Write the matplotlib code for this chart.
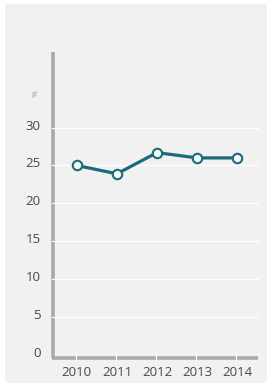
import matplotlib
matplotlib.use("Agg")
import matplotlib.pyplot as plt
import matplotlib.transforms as mtransforms
from matplotlib.patches import Rectangle

years = ["2010", "2011", "2012", "2013", "2014"]
values = [25.0, 23.9, 26.7, 26.0, 26.0]
yticks = [0, 5, 10, 15, 20, 25, 30]
unit = "%"

plt.rcParams['font.family'] = ['Open Sans', 'DejaVu Sans']

W, H = 274, 388
fig = plt.figure(figsize=(W / 100, H / 100), dpi=100, facecolor="white")
fig.patches.append(Rectangle((5 / W, 1 - 383 / H), 262 / W, 379 / H,
                             transform=fig.transFigure, facecolor="#f1f1f1",
                             edgecolor="none", zorder=-10))

ax = fig.add_axes([52 / W, (H - 357.6) / H, 206 / W, (357.6 - 52) / H])
ax.set_facecolor("none")
x = list(range(len(years)))
ax.set_xlim(-0.62, 4.52)
ax.set_ylim(-0.4, 40)

for s in ax.spines.values():
    s.set_visible(False)

spine_col = "#a8a8a8"
# manual spines
ax.plot([0.006, 0.006], [0, 1], transform=ax.transAxes, color=spine_col, lw=2.6,
        solid_capstyle="butt", zorder=1, clip_on=False)
ax.plot([0, 1], [0.0, 0.0], transform=ax.transAxes, color=spine_col, lw=2.6,
        solid_capstyle="butt", zorder=1, clip_on=False)

# white gridlines crossing the y spine
for t in yticks[1:]:
    ax.plot([0, 1], [t, t], transform=ax.get_yaxis_transform(), color="white",
            lw=0.9, zorder=2, clip_on=False)
# white gaps in x bar at category positions
for xi in x:
    ax.plot([xi - 0.02, xi - 0.02], [-0.012, 0.012], transform=ax.get_xaxis_transform(),
            color="white", lw=0.9, zorder=2, clip_on=False)

line_col = "#1b6b7b"
ax.plot(x, values, color=line_col, lw=2.3, marker="o", ms=6.8, mfc="#f4f6f6",
        mec=line_col, mew=1.5, zorder=5, clip_on=False)

ax.set_xticks(x)
ax.set_xticklabels(years)
ax.set_yticks(yticks)
ax.set_yticklabels([str(t) for t in yticks])
ax.tick_params(axis="both", length=0, labelsize=9.5, labelcolor="#474747")
ax.tick_params(axis="x", pad=6)
ax.tick_params(axis="y", pad=8)

off = mtransforms.ScaledTranslation(0, 3 / 100, fig.dpi_scale_trans)
for lab in ax.get_yticklabels():
    lab.set_transform(lab.get_transform() + off)

ax.text(-0.075, 0.865, unit, transform=ax.transAxes, rotation=90, fontsize=6,
        color="#9a9a9a", ha="center", va="center")

fig.savefig("out.png", dpi=100, facecolor="white")
